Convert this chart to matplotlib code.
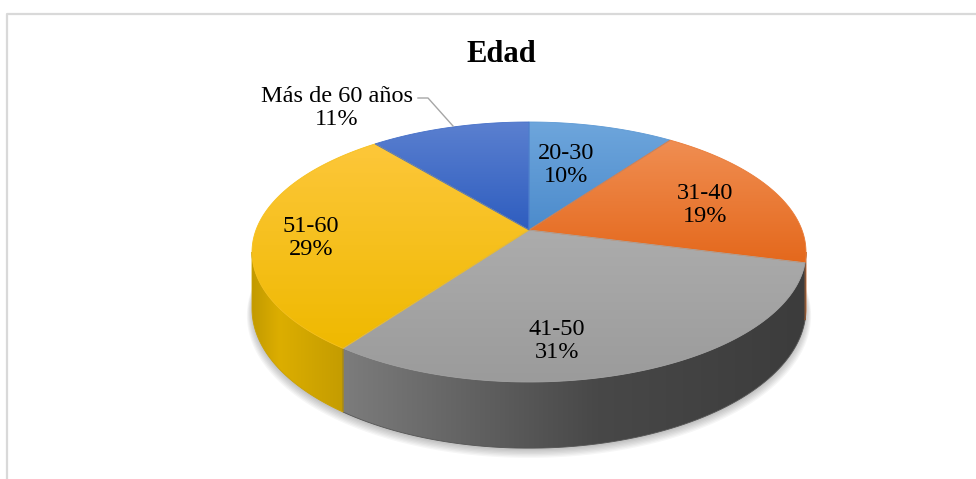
import matplotlib.pyplot as plt
import numpy as np
from matplotlib.patches import Polygon
from matplotlib.lines import Line2D
from matplotlib.colors import to_rgb

# data
categories = ["20-30", "31-40", "41-50", "51-60", "Más de 60 años"]
values = [10, 19, 31, 29, 11]
title = "Edad"

# colours: top face (light, dark), side wall stops left -> right
top_colors = [("#6ea6dc", "#4c8bcc"), ("#f08e52", "#e4681c"), ("#acacac", "#9b9b9b"),
              ("#fdc73a", "#efb900"), ("#5b80d0", "#2e5dbf")]
side_colors = [[(0, "#3f74aa"), (1, "#3f74aa")],
               [(0, "#c05a18"), (1, "#b4541a")],
               [(0, "#7c7c7c"), (0.55, "#484848"), (1, "#3c3c3c")],
               [(0, "#c29a00"), (0.3, "#dcae00"), (1, "#c49c00")],
               [(0, "#2a4f9c"), (1, "#2a4f9c")]]
label_pos = [(566, 165), (705, 205), (557, 341), (311, 238), (337, 108)]

# projection of the disk (pixel space, perspective)
CX, CY = 529, 230
R = 273
A, C, H = -87.36, 0.1692, 55
SIL = np.degrees(np.arcsin(C))


def proj(theta, r=1.0, z=0.0):
    t = np.radians(theta)
    x = r * np.cos(t)
    y = r * np.sin(t)
    d = 1 + C * y
    return np.column_stack([CX + R * x / d, (A * y + CY + H * z) / d])


def grad_fill(ax, verts, stops, horizontal=False, zorder=2):
    poly = Polygon(verts, closed=True, facecolor="none", edgecolor="none", zorder=zorder)
    ax.add_patch(poly)
    x0, x1 = verts[:, 0].min(), verts[:, 0].max()
    y0, y1 = verts[:, 1].min(), verts[:, 1].max()
    pos = [s[0] for s in stops]
    rgb = np.array([to_rgb(s[1]) for s in stops])
    g = np.linspace(0, 1, 256)
    cols = np.column_stack([np.interp(g, pos, rgb[:, k]) for k in range(3)])
    img = cols[None, :, :] if horizontal else cols[:, None, :]
    im = ax.imshow(img, extent=(x0, x1, y1, y0), aspect="auto",
                   interpolation="bilinear", zorder=zorder)
    im.set_clip_path(poly)
    # soft edge
    ax.add_patch(Polygon(verts, closed=True, facecolor="none",
                         edgecolor=tuple(rgb.mean(axis=0)), lw=0.6, zorder=zorder + 0.1))


fig = plt.figure(figsize=(9.76, 4.79), dpi=100)
ax = fig.add_axes([0, 0, 1, 1])
ax.axis("off")

# chart border
ax.add_line(Line2D([7, 7, 980], [479, 14, 14], color="#d9d9d9", lw=1.6))

total = sum(values)
cum = np.concatenate([[0], np.cumsum(values)])
starts = 90 - 360 * cum[:-1] / total
ends = 90 - 360 * cum[1:] / total

# shadow
full = np.linspace(0, 360, 361)
for k in range(7):
    sh = proj(full, r=1.0 + 0.003 * k, z=1.0)
    sh[:, 1] += 2 + k * 0.7
    ax.add_patch(Polygon(sh, closed=True, facecolor="black", edgecolor="none",
                         alpha=0.035, zorder=1))

# side walls
lo, hi = -180 + SIL, -SIL
for i in range(len(values)):
    a0, a1 = ends[i], starts[i]
    for shift in (-360, 0, 360):
        b0, b1 = max(a0 + shift, lo), min(a1 + shift, hi)
        if b1 - b0 > 0.05:
            th = np.linspace(b0, b1, 80)
            verts = np.vstack([proj(th, z=0), proj(th[::-1], z=1)])
            grad_fill(ax, verts, side_colors[i], horizontal=True, zorder=2)

# top faces
for i in range(len(values)):
    th = np.linspace(starts[i], ends[i], 120)
    verts = np.vstack([[CX, CY], proj(th)])
    grad_fill(ax, verts, [(0, top_colors[i][0]), (1, top_colors[i][1])], zorder=3)

# labels
for i, (cat, v) in enumerate(zip(categories, values)):
    ax.text(label_pos[i][0], label_pos[i][1], f"{cat}\n{v}%", ha="center", va="center",
            fontsize=17.5, family="Liberation Serif", color="black", zorder=5,
            linespacing=1.15)

# leader line for the outside label
ax.add_line(Line2D([418, 428, 453], [98, 98, 126], color="#a6a6a6", lw=1.0, zorder=4))

ax.text(501, 54, title, ha="center", va="center", fontsize=22, fontweight="bold",
        family="Liberation Serif", color="black")

ax.set_xlim(0, 976)
ax.set_ylim(479, 0)
fig.savefig("out.png", dpi=100)
